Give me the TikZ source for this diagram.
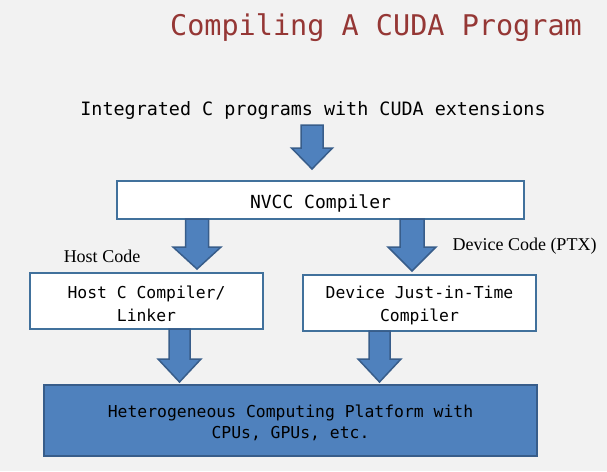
\documentclass[tikz,border=0pt]{standalone}
\usepackage{fontspec}
\setmonofont{DejaVu Sans Mono}
\newfontfamily\serifx{Liberation Serif}
\usetikzlibrary{calc}
\definecolor{bg}{HTML}{F2F2F2}
\definecolor{titlered}{HTML}{953735}
\definecolor{boxline}{HTML}{41719C}
\definecolor{blockfill}{HTML}{4F81BD}
\definecolor{blockline}{HTML}{385D8A}
\tikzset{
  wbox/.style={draw=boxline, line width=2pt, fill=white, rectangle, inner sep=0pt},
  bigbox/.style={draw=blockline, line width=2pt, fill=blockfill, rectangle, inner sep=0pt},
  boxtext/.style={align=center, inner sep=0pt, font=\ttfamily\fontsize{16.4}{23}\selectfont},
  barrow/.style={draw=blockline, line width=1.5pt, fill=blockfill, line join=miter},
  lbl/.style={font=\serifx\fontsize{18}{20}\selectfont, inner sep=0pt, anchor=base}
}
% \blockarr{cx}{ytop}{yhead}{ytip}{shafthalf}{headhalf}
\newcommand{\blockarr}[6]{%
  \draw[barrow] (#1-#5,#2) -- (#1+#5,#2) -- (#1+#5,#3) -- (#1+#6,#3) -- (#1,#4) -- (#1-#6,#3) -- (#1-#5,#3) -- cycle;}
\begin{document}
\begin{tikzpicture}[x=1pt,y=-1pt]
\fill[bg] (0,0) rectangle (607,471);
\useasboundingbox (0,0) rectangle (607,471);
\node[text=titlered, font=\ttfamily\fontsize{28.5}{30}\selectfont, inner sep=0pt, anchor=base] (title) at (376,35) {Compiling A CUDA Program};
\node[font=\ttfamily\fontsize{18.4}{20}\selectfont, inner sep=0pt, anchor=base] (src) at (313,115) {Integrated C programs with CUDA extensions};
\node[wbox, minimum width=407pt, minimum height=38pt,
  label={[boxtext, font=\ttfamily\fontsize{18}{20}\selectfont, yshift=-3pt]center:NVCC Compiler}] (nvcc) at (320.5,200) {};
\node[wbox, minimum width=233pt, minimum height=56pt,
  label={[boxtext, yshift=-2.5pt]center:Host C Compiler/\\Linker}] (host) at (146.5,301) {};
\node[wbox, minimum width=233pt, minimum height=56pt,
  label={[boxtext, yshift=-2pt]center:Device Just-in-Time\\Compiler}] (dev) at (419.5,303) {};
\node[bigbox, minimum width=493pt, minimum height=71pt,
  label={[boxtext, font=\ttfamily\fontsize{16.4}{21}\selectfont, yshift=-2.5pt]center:Heterogeneous Computing Platform with\\CPUs, GPUs, etc.}] (plat) at (290.5,420.5) {};
\node[lbl] (hostlbl) at (102,262) {Host Code};
\node[lbl] (devlbl) at (524.5,250) {Device Code (PTX)};
% block arrows between nodes
\blockarr{312}{125}{148}{169}{11}{20.5}
\blockarr{197}{219}{247}{269}{11.5}{24}
\blockarr{412}{219}{247}{271}{12}{24}
\blockarr{179.5}{329}{359}{382}{10.5}{21.5}
\blockarr{379.5}{331}{359}{382}{10.5}{21.5}
\end{tikzpicture}
\end{document}
